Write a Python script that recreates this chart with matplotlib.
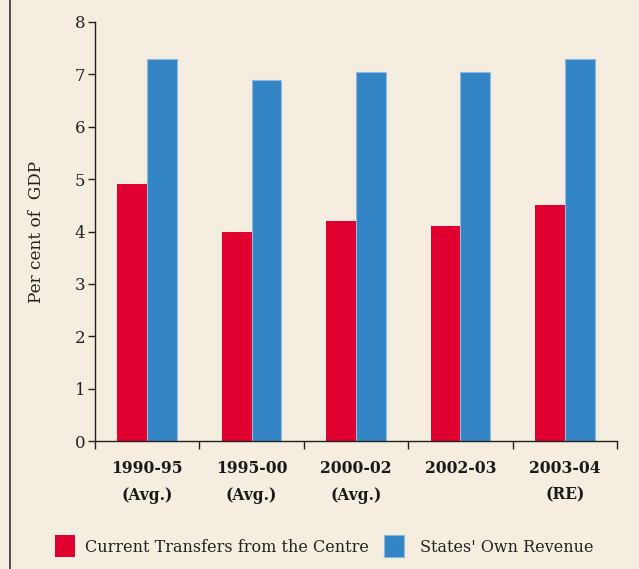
import numpy as np
import matplotlib
matplotlib.use("Agg")
import matplotlib.pyplot as plt
from matplotlib.patches import Rectangle
from matplotlib.lines import Line2D

periods = ["1990-95\n(Avg.)", "1995-00\n(Avg.)", "2000-02\n(Avg.)", "2002-03", "2003-04\n(RE)"]
transfers = [4.9, 4.0, 4.2, 4.1, 4.5]
own_revenue = [7.3, 6.9, 7.05, 7.05, 7.3]

bg = "#f5eddf"
red = "#e0002f"
blue = "#3485c6"

plt.rcParams["font.family"] = ["DejaVu Serif"]

fig = plt.figure(figsize=(6.39, 5.69), dpi=100, facecolor=bg)
ax = fig.add_axes([95 / 639, 1 - 441 / 569, (617 - 95) / 639, (441 - 22) / 569])
ax.set_facecolor(bg)

x = np.arange(len(periods)) + 0.5
w = 0.285
ax.bar(x - w / 2, transfers, w, color=red, linewidth=0)
ax.bar(x + w / 2, own_revenue, w, color=blue, edgecolor="#8fb8dd", linewidth=0.8)

ax.set_xlim(0, len(periods))
ax.set_ylim(0, 8)
ax.set_yticks(range(0, 9))
ax.set_xticks(range(0, len(periods) + 1))
ax.set_xticklabels([])
for xi, lab in zip(x, periods):
    ax.text(xi, -0.36, lab, ha="center", va="top", fontsize=11.2, fontweight="bold",
            linespacing=1.75, color="#1a1a1a")

for s in ("top", "right"):
    ax.spines[s].set_visible(False)
for s in ("left", "bottom"):
    ax.spines[s].set_linewidth(1.0)
    ax.spines[s].set_color("#222222")
ax.tick_params(axis="y", direction="out", length=5, width=1, labelsize=12, pad=2, colors="#222222")
ax.tick_params(axis="x", direction="out", length=6, width=1, colors="#222222")
ax.set_ylabel("Per cent of  GDP", fontsize=12.2, labelpad=21, color="#222222")

# legend along the bottom
fig.patches.append(Rectangle((55 / 639, 1 - 557 / 569), 20 / 639, 22 / 569,
                             transform=fig.transFigure, facecolor=red, edgecolor="none"))
fig.text(85 / 639, 1 - 547 / 569, "Current Transfers from the Centre", fontsize=11.5,
         va="center", color="#222222")
fig.patches.append(Rectangle((384 / 639, 1 - 557 / 569), 20 / 639, 22 / 569,
                             transform=fig.transFigure, facecolor=blue, edgecolor="#8fb8dd", linewidth=0.8))
fig.text(420 / 639, 1 - 547 / 569, "States' Own Revenue", fontsize=11.5,
         va="center", color="#222222")

# left border of the panel
fig.lines.append(Line2D([10 / 639, 10 / 639], [0, 1], transform=fig.transFigure,
                        color="#333333", linewidth=1.2))

fig.savefig("out.png", dpi=100, facecolor=bg)
